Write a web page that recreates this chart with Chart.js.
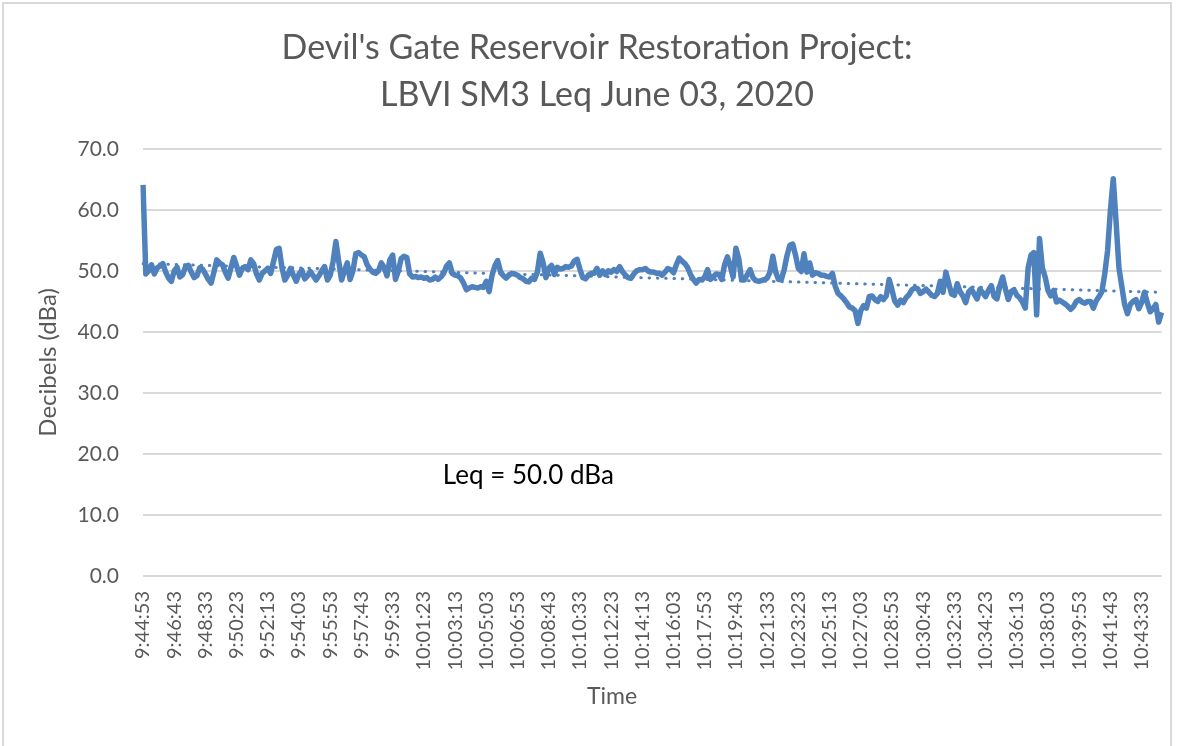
<!DOCTYPE html>
<html>
<head>
<meta charset="utf-8">
<script src="https://cdn.jsdelivr.net/npm/chart.js@4.4.1/dist/chart.umd.min.js"></script>
<style>
  html, body { margin: 0; padding: 0; background: #fff; }
  #wrap { width: 1181px; height: 746px; position: relative; }
</style>
</head>
<body>
<div id="wrap"><canvas id="leqChart" width="1181" height="746"></canvas></div>
<script>
// readings every 10 s, starting 9:44:53
const startTime = '9:44:53';
const stepSeconds = 10;

const leqValues = [
    64.1, 49.5, 50.0, 51.0, 49.5, 50.5, 50.8, 51.2, 49.8, 48.8,
    48.3, 50.0, 50.6, 49.0, 49.4, 50.7, 50.9, 49.8, 48.9, 49.2,
    50.5, 50.3, 49.5, 48.6, 48.0, 49.8, 51.8, 51.3, 51.0, 49.8,
    48.8, 50.5, 52.2, 50.8, 49.3, 50.4, 50.7, 50.2, 51.8, 51.2,
    49.5, 48.5, 49.6, 50.0, 50.4, 49.6, 51.5, 53.5, 53.7, 50.5,
    48.5, 49.3, 50.4, 49.3, 48.3, 49.5, 50.1, 48.7, 49.2, 49.9,
    49.2, 48.5, 49.2, 50.0, 50.7, 48.5, 49.3, 51.5, 54.8, 51.5,
    48.5, 50.0, 51.3, 48.6, 50.0, 52.8, 53.0, 52.6, 52.3, 51.0,
    50.3, 49.8, 49.6, 50.0, 51.3, 50.6, 49.2, 51.8, 52.6, 48.6,
    50.0, 52.0, 52.4, 52.2, 49.5, 49.0, 49.1, 48.9, 49.0, 48.8,
    48.9, 48.5, 48.6, 49.0, 48.6, 49.0, 49.6, 50.8, 51.3, 49.6,
    49.3, 49.2, 48.8, 48.0, 46.9, 47.2, 47.4, 47.3, 47.2, 47.4,
    47.3, 48.3, 46.6, 49.2, 50.8, 51.7, 49.9, 49.2, 48.8, 49.3,
    49.6, 49.5, 49.3, 48.9, 48.7, 48.3, 48.2, 48.8, 48.6, 49.8,
    52.9, 51.4, 48.9, 50.4, 50.9, 49.4, 50.6, 50.3, 50.4, 50.7,
    50.6, 50.8, 51.6, 51.9, 50.3, 48.9, 48.7, 49.3, 49.6, 49.6,
    50.4, 49.3, 50.0, 49.4, 50.0, 49.8, 50.2, 49.9, 50.7, 49.9,
    49.3, 48.9, 48.8, 49.5, 50.0, 50.2, 50.2, 50.4, 50.0, 49.8,
    49.8, 49.6, 49.6, 49.3, 49.8, 50.4, 50.2, 49.7, 51.0, 52.1,
    51.6, 51.2, 50.5, 49.4, 48.6, 48.0, 48.6, 48.5, 49.0, 50.2,
    48.6, 49.0, 49.5, 49.4, 48.6, 51.0, 52.3, 50.8, 49.0, 53.7,
    52.0, 48.5, 48.5, 49.4, 50.2, 48.9, 48.4, 48.3, 48.4, 48.6,
    48.8, 49.8, 52.4, 49.8, 48.6, 48.6, 50.2, 52.5, 54.2, 54.4,
    52.6, 50.4, 49.9, 52.8, 49.8, 51.3, 49.3, 49.7, 49.6, 49.3,
    49.3, 49.1, 49.0, 49.6, 47.5, 46.3, 45.9, 45.4, 44.8, 44.1,
    43.9, 43.5, 41.4, 43.5, 44.3, 43.9, 45.8, 45.9, 45.3, 45.0,
    45.8, 45.3, 45.9, 48.6, 46.9, 45.0, 44.4, 45.2, 44.8, 45.6,
    46.1, 46.9, 47.2, 47.1, 46.3, 46.6, 47.0, 46.5, 46.0, 45.8,
    46.3, 48.3, 46.5, 49.8, 48.0, 46.2, 46.0, 47.9, 46.6, 45.9,
    44.8, 46.5, 47.0, 46.2, 45.4, 47.0, 46.4, 45.8, 46.8, 47.6,
    45.8, 45.4, 47.5, 49.0, 47.0, 45.3, 46.6, 46.9, 46.0, 45.6,
    44.9, 43.9, 50.5, 52.6, 53.0, 42.8, 55.3, 50.5, 49.0, 46.8,
    45.9, 46.8, 44.9, 45.2, 44.9, 44.6, 44.2, 43.7, 44.2, 45.0,
    45.3, 44.9, 44.7, 45.0, 45.0, 43.9, 45.1, 45.8, 46.6, 49.5,
    53.3, 60.0, 65.1, 58.0, 50.5, 47.5, 44.5, 43.0, 44.5, 45.0,
    45.3, 43.8, 44.8, 46.5, 44.8, 43.3, 43.8, 44.5, 41.6, 43.2
];

// every 11th reading gets a label on the axis
const tickEvery = 11;
const tickLabels = [
    '9:44:53', '9:46:43', '9:48:33', '9:50:23', '9:52:13', '9:54:03', '9:55:53', '9:57:43',
    '9:59:33', '10:01:23', '10:03:13', '10:05:03', '10:06:53', '10:08:43', '10:10:33', '10:12:23',
    '10:14:13', '10:16:03', '10:17:53', '10:19:43', '10:21:33', '10:23:23', '10:25:13', '10:27:03',
    '10:28:53', '10:30:43', '10:32:33', '10:34:23', '10:36:13', '10:38:03', '10:39:53', '10:41:43',
    '10:43:33'
];
const yTicks = [0, 10, 20, 30, 40, 50, 60, 70];
const leqNote = 'Leq = 50.0 dBa';

// category labels (clock times)
const toSec = (t) => { const p = t.split(':').map(Number); return p[0] * 3600 + p[1] * 60 + p[2]; };
const fmt = (s) => Math.floor(s / 3600) + ':' + String(Math.floor(s / 60) % 60).padStart(2, '0') + ':' + String(s % 60).padStart(2, '0');
const times = leqValues.map((v, i) => fmt(toSec(startTime) + i * stepSeconds));

// linear trendline (least squares), like the spreadsheet's
const n = leqValues.length;
let sx = 0, sy = 0, sxy = 0, sxx = 0;
leqValues.forEach((v, i) => { sx += i; sy += v; sxy += i * v; sxx += i * i; });
const slope = (n * sxy - sx * sy) / (n * sxx - sx * sx);
const icept = (sy - slope * sx) / n;
const trend = leqValues.map((v, i) => icept + slope * i);

const textGray = '#595959';
const fontFam = 'Lato, "Open Sans", sans-serif';

const extras = {
    id: 'extras',
    beforeDraw: (chart) => {
        const c = chart.ctx;
        c.save();
        c.fillStyle = '#fff';
        c.fillRect(0, 0, chart.width, chart.height);
        c.strokeStyle = '#d9d9d9';
        c.lineWidth = 2;
        c.strokeRect(3, 3, 1168, 760);
        c.restore();
    },
    afterDraw: (chart) => {
        const c = chart.ctx;
        const xs = chart.scales.x, ys = chart.scales.y;
        c.save();
        c.fillStyle = '#000';
        c.font = '26px ' + fontFam;
        c.textAlign = 'left';
        c.textBaseline = 'middle';
        c.fillText(leqNote, xs.getPixelForValue(105.7), ys.getPixelForValue(16.4));
        c.fillStyle = textGray;
        c.font = '23px ' + fontFam;
        c.textAlign = 'center';
        c.fillText('Time', 612, 697);
        c.restore();
    }
};

const ctx = document.getElementById('leqChart').getContext('2d');
new Chart(ctx, {
    type: 'line',
    data: {
        labels: times,
        datasets: [{
            label: 'Leq',
            data: leqValues,
            borderColor: '#4f81bd',
            borderWidth: 5.5,
            pointRadius: 0,
            tension: 0,
            borderJoinStyle: 'round',
            order: 1
        }, {
            label: 'Linear (Leq)',
            data: trend,
            borderColor: '#4f81bd',
            borderWidth: 3,
            borderDash: [0.5, 7.8],
            borderCapStyle: 'round',
            pointRadius: 0,
            order: 0
        }]
    },
    options: {
        responsive: false,
        animation: false,
        layout: { padding: { left: 32, right: 19, top: 0, bottom: 0 } },
        plugins: {
            legend: { display: false },
            tooltip: { enabled: false },
            title: {
                display: true,
                text: ["Devil's Gate Reservoir Restoration Project:", 'LBVI SM3 Leq June 03, 2020'],
                color: textGray,
                font: { family: fontFam, size: 34, weight: 'normal', lineHeight: 1.38 },
                padding: { top: 24.5, bottom: 30.5 }
            }
        },
        scales: {
            x: {
                offset: false,
                grid: { display: false, drawTicks: false },
                border: { display: false },
                ticks: {
                    autoSkip: false,
                    minRotation: 90,
                    maxRotation: 90,
                    padding: 15,
                    color: textGray,
                    font: { family: fontFam, size: 20 },
                    callback: (val, i) => (i % tickEvery === 0 ? tickLabels[i / tickEvery] : null)
                },
                afterFit: (s) => { s.height = 170; }
            },
            y: {
                min: 0,
                max: 70,
                afterBuildTicks: (s) => { s.ticks = yTicks.map(v => ({ value: v })); },
                grid: { color: '#d9d9d9', lineWidth: 2, drawTicks: false },
                border: { display: false },
                ticks: {
                    padding: 24,
                    color: textGray,
                    font: { family: fontFam, size: 21 },
                    callback: (v) => v.toFixed(1)
                },
                title: {
                    display: true,
                    text: 'Decibels (dBa)',
                    color: textGray,
                    font: { family: fontFam, size: 24 },
                    padding: { top: 2 }
                },
                afterFit: (s) => { s.width = 111; }
            }
        }
    },
    plugins: [extras]
});
</script>
</body>
</html>
